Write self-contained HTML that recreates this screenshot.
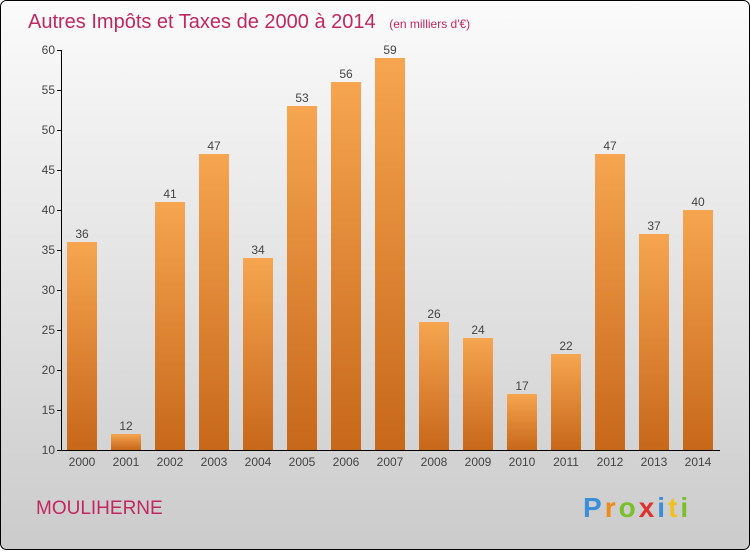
<!DOCTYPE html>
<html><head><meta charset="utf-8"><style>
html,body{margin:0;padding:0}
body{width:750px;height:550px;overflow:hidden;font-family:"Liberation Sans",sans-serif}
</style></head><body>
<svg width="750" height="550" xmlns="http://www.w3.org/2000/svg">
<defs>
<linearGradient id="bg" x1="0" y1="0" x2="0" y2="1"><stop offset="0" stop-color="#fbfbfb"/><stop offset="1" stop-color="#cbcbcb"/></linearGradient>
<linearGradient id="bar" x1="0" y1="0" x2="0" y2="1"><stop offset="0" stop-color="#f6a550"/><stop offset="1" stop-color="#c7671a"/></linearGradient>
</defs>
<rect x="0.5" y="0.5" width="749" height="549" rx="6" fill="url(#bg)" stroke="#000"/>
<text x="28" y="28" font-size="20" fill="#c0285f">Autres Impôts et Taxes de 2000 à 2014 <tspan font-size="12" dx="8">(en milliers d'€)</tspan></text>
<g id="axes"></g>
<g id="bars"></g>
<text x="36" y="514" font-size="19" fill="#c0285f">MOULIHERNE</text>
<text x="583" y="517" font-size="28" font-weight="bold" letter-spacing="3"><tspan fill="#3a8fd8">P</tspan><tspan fill="#f08a1c">r</tspan><tspan fill="#7bbf2a">o</tspan><tspan fill="#e0322c">x</tspan><tspan fill="#3a8fd8">i</tspan><tspan fill="#f0c020">t</tspan><tspan fill="#7bbf2a">i</tspan></text>
</svg>
<script>
const years=["2000","2001","2002","2003","2004","2005","2006","2007","2008","2009","2010","2011","2012","2013","2014"];
const values=[36,12,41,47,34,53,56,59,26,24,17,22,47,37,40];
const yTicks=[10,15,20,25,30,35,40,45,50,55,60];
const NS="http://www.w3.org/2000/svg";
const y=v=>450-(v-10)*8;
const x=i=>82+i*44;
function mk(t,a,p){const e=document.createElementNS(NS,t);for(const k in a)e.setAttribute(k,a[k]);p.appendChild(e);return e;}
const ax=document.getElementById('axes'),bg=document.getElementById('bars');
const yl=mk('line',{x1:61.5,y1:50,x2:61.5,y2:451,stroke:'#000'},ax);


const xl=mk('line',{x1:61,y1:450.5,x2:720,y2:450.5,stroke:'#000'},ax);


yTicks.forEach(t=>{
 mk('line',{x1:57,y1:y(t)+0.5,x2:61,y2:y(t)+0.5,stroke:'#000'},ax);
 const tx=mk('text',{x:55,y:y(t)+4,'font-size':12,fill:'#444','text-anchor':'end'},ax);tx.textContent=t;
 
 
});
years.forEach((yr,i)=>{
 const v=values[i];
 const r=mk('rect',{x:x(i)-15,y:y(v),width:30,height:450-y(v),fill:'url(#bar)'},bg);
 
 
 const l=mk('text',{x:x(i),y:y(v)-4,'font-size':12,fill:'#444','text-anchor':'middle'},bg);l.textContent=v;
 
 
 const xt=mk('text',{x:x(i),y:466,'font-size':12,fill:'#444','text-anchor':'middle'},bg);xt.textContent=yr;
 
 
});
</script>
</body></html>
